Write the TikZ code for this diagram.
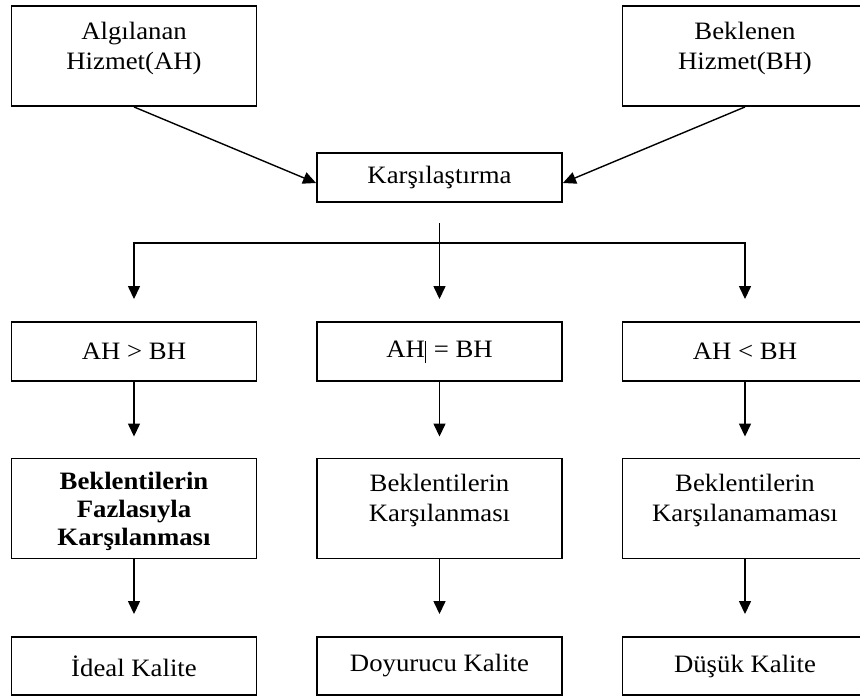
\documentclass[tikz,border=0pt]{standalone}
\usepackage{fontspec}
\setmainfont{Liberation Serif}[FakeStretch=1.07]
\usetikzlibrary{arrows.meta}
\begin{document}
\begin{tikzpicture}[x=1pt,y=-1pt,
  box/.style={draw,line width=1.9pt,minimum width=245pt,inner sep=0pt},
  tall/.style={box,minimum height=100pt},
  mid/.style={box,minimum height=59pt},
  label text/.style={align=center,font=\fontsize{25}{30}\selectfont,inner sep=0pt},
  flow/.style={line width=1.4pt,-{Triangle[length=13pt,width=12pt]}},
  gapped/.style={flow,shorten >=21pt}]
\useasboundingbox (0,0) rectangle (860,698);
\clip (0,0) rectangle (860,698);

% source boxes
\node[tall] (ah) at (134,56) {};
\node[label text] (ahT) at (134,48) {Algılanan\\Hizmet(AH)};
\node[tall] (bh) at (745,56) {};
\node[label text] (bhT) at (745,48) {Beklenen\\Hizmet(BH)};

% comparison
\node[box,minimum height=49pt,label text,draw] (kars) at (439.5,177.5) {Karşılaştırma};

% conditions
\node[mid,label text,draw] (gt) at (134,351.5) {AH > BH};
\node[mid,label text,draw] (eq) at (439.5,351.5) {AH\hspace{0.5pt}\rule[-5pt]{0.7pt}{22pt}\hspace{1pt} = BH};
\node[mid,label text,draw] (lt) at (745,351.5) {AH < BH};

% outcomes
\node[tall] (over) at (134,508.5) {};
\node[label text,font=\fontsize{25}{28}\selectfont\bfseries] (overT) at (134,511) {Beklentilerin\\Fazlasıyla\\Karşılanması};
\node[tall] (meet) at (439.5,508.5) {};
\node[label text] (meetT) at (439.5,500) {Beklentilerin\\Karşılanması};
\node[tall] (fail) at (745,508.5) {};
\node[label text] (failT) at (745,500) {Beklentilerin\\Karşılanamaması};

% quality levels
\node[box,minimum height=58pt,label text,draw] (ideal) at (134,666) {İdeal Kalite};
\node[box,minimum height=58pt,label text,draw] (sat) at (439.5,666) {Doyurucu Kalite};
\node[box,minimum height=58pt,label text,draw] (low) at (745,666) {Düşük Kalite};

% inputs into the comparison
\draw[flow] (ah.south) -- ([yshift=-5.5pt]kars.west);
\draw[flow] (bh.south) -- ([yshift=-5.5pt]kars.east);

% split into the three cases
\coordinate (split) at (439.5,223);
\coordinate (hub) at (439.5,243);
\draw[line width=1.4pt] (split) -- (hub);
\draw[flow,shorten >=22pt] (hub) -| (gt.north);
\draw[flow,shorten >=22pt] (hub) -- (eq.north);
\draw[flow,shorten >=22pt] (hub) -| (lt.north);

% condition to outcome
\draw[gapped] (gt) -- (over);
\draw[gapped] (eq) -- (meet);
\draw[gapped] (lt) -- (fail);

% outcome to quality
\draw[gapped,shorten >=22pt] (over) -- (ideal);
\draw[gapped,shorten >=22pt] (meet) -- (sat);
\draw[gapped,shorten >=22pt] (fail) -- (low);
\end{tikzpicture}
\end{document}
